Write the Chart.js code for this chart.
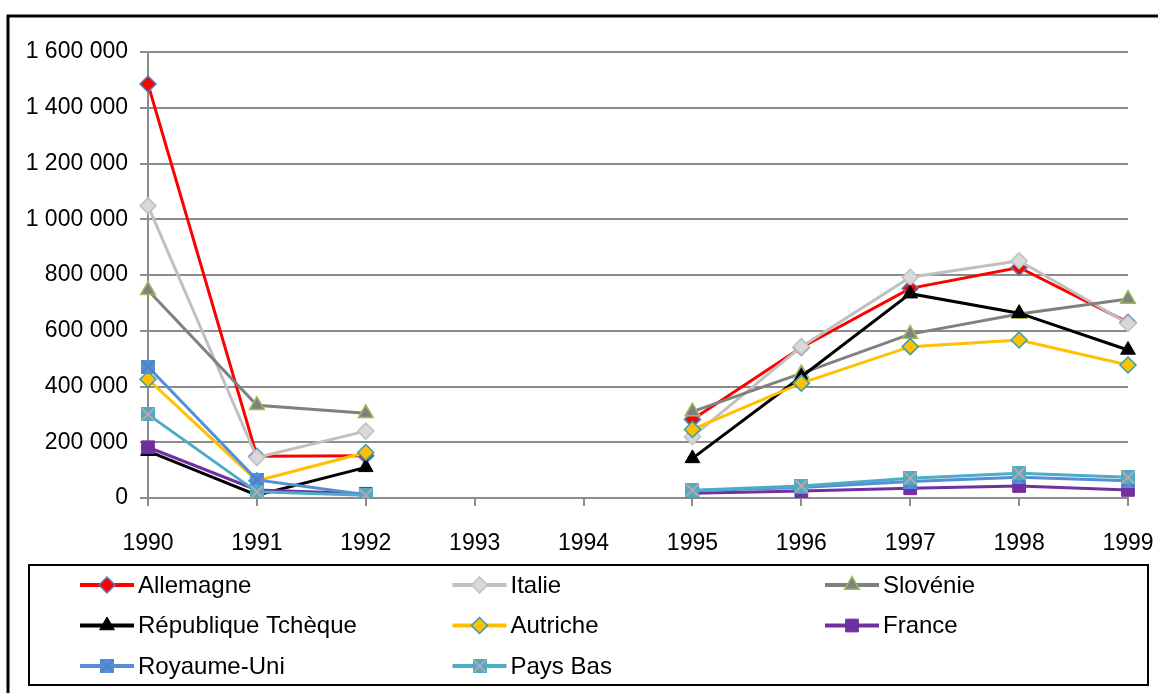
<!DOCTYPE html>
<html>
<head>
<meta charset="utf-8">
<script src="https://cdn.jsdelivr.net/npm/chart.js@4/dist/chart.umd.min.js"></script>
<style>
  html, body { margin: 0; padding: 0; background: #fff; }
  canvas { display: block; }
</style>
</head>
<body>
<canvas id="chart" width="1158" height="693"></canvas>
<script>
// categories
const years = ['1990', '1991', '1992', '1993', '1994', '1995', '1996', '1997', '1998', '1999'];

// series values (1993 / 1994 missing)
const allemagne  = [1485000, 150000, 152000, null, null, 282000, 540000, 752000, 827000, 630000];
const italie     = [1048000, 145000, 240000, null, null, 220000, 543000, 792000, 851000, 626000];
const slovenie   = [745000, 333000, 304000, null, null, 310000, 447000, 588000, 660000, 714000];
const repTcheque = [168000, 10000, 110000, null, null, 142000, 435000, 733000, 663000, 531000];
const autriche   = [426000, 62000, 163000, null, null, 246000, 412000, 543000, 567000, 477000];
const france     = [182000, 29000, 15000, null, null, 17000, 25000, 35000, 43000, 29000];
const royaumeUni = [471000, 65000, 12000, null, null, 26000, 38000, 59000, 74000, 62000];
const paysBas    = [300000, 22000, 10000, null, null, 28000, 43000, 71000, 89000, 74000];

// y axis ticks
const yTicks = [0, 200000, 400000, 600000, 800000, 1000000, 1200000, 1400000, 1600000];

const FONT = '"Liberation Sans", Arial, sans-serif';

function fmt(v) {
    return String(v).replace(/\B(?=(\d{3})+(?!\d))/g, ' ');
}

// square marker with a cross on it (Excel style)
function squareX(fill, cross) {
    const c = document.createElement('canvas');
    c.width = 14; c.height = 14;
    const g = c.getContext('2d');
    g.fillStyle = fill;
    g.fillRect(0, 0, 14, 14);
    g.strokeStyle = cross;
    g.lineWidth = 1.5;
    g.beginPath();
    g.moveTo(1, 1); g.lineTo(13, 13);
    g.moveTo(13, 1); g.lineTo(1, 13);
    g.stroke();
    return c;
}

function series(label, data, line, style, fill, border, radius, bw) {
    return {
        label: label,
        data: data,
        borderColor: line,
        backgroundColor: line,
        borderWidth: 3,
        pointStyle: style,
        pointRadius: radius,
        pointBackgroundColor: fill,
        pointBorderColor: border,
        pointBorderWidth: bw,
        spanGaps: false,
        tension: 0
    };
}

const datasets = [
    series('Allemagne', allemagne, '#FF0000', 'rectRot', '#FF0000', '#4F81BD', 8, 1.5),
    series('Italie', italie, '#C0C0C0', 'rectRot', '#D9D9D9', '#C0C0C0', 8, 1.5),
    series('Slovénie', slovenie, '#808080', 'triangle', '#808080', '#9BBB59', 8.5, 1.5),
    series('République Tchèque', repTcheque, '#000000', 'triangle', '#000000', '#000000', 8.5, 1),
    series('Autriche', autriche, '#FFC000', 'rectRot', '#FFC000', '#31A0B8', 8, 1.5),
    series('France', france, '#7030A0', 'rect', '#7030A0', '#7030A0', 9, 1),
    series('Royaume-Uni', royaumeUni, '#558ED5', squareX('#558ED5', '#4A7EC0'), '#558ED5', '#558ED5', 8, 0),
    series('Pays Bas', paysBas, '#4BACC6', squareX('#4BACC6', '#E6A0A0'), '#4BACC6', '#4BACC6', 8, 0)
];
// later series drawn on top, like Excel
datasets.forEach((d, i) => { d.order = datasets.length - i; });

// frame + legend box drawn on the canvas
const framePlugin = {
    id: 'frame',
    beforeDraw(chart) {
        const ctx = chart.ctx;
        ctx.save();
        ctx.fillStyle = '#fff';
        ctx.fillRect(0, 0, chart.width, chart.height);
        ctx.strokeStyle = '#000';
        ctx.lineWidth = 3;
        ctx.strokeRect(8, 16, 1400, 900);
        ctx.restore();
    },
    afterDraw(chart) {
        const ctx = chart.ctx;
        ctx.save();
        ctx.strokeStyle = '#000';
        ctx.lineWidth = 2;
        ctx.strokeRect(29, 565, 1119, 120);

        chart.data.datasets.forEach((ds, i) => {
            const col = i % 3;
            const row = Math.floor(i / 3);
            const x0 = 80 + col * 372.5;
            const y = 585 + row * 40.5;
            ctx.strokeStyle = ds.borderColor;
            ctx.lineWidth = 4;
            ctx.beginPath();
            ctx.moveTo(x0, y);
            ctx.lineTo(x0 + 54, y);
            ctx.stroke();

            ctx.fillStyle = ds.pointBackgroundColor;
            ctx.strokeStyle = ds.pointBorderColor;
            ctx.lineWidth = ds.pointBorderWidth;
            if (Chart.helpers && Chart.helpers.drawPoint) {
                Chart.helpers.drawPoint(ctx, {
                    pointStyle: ds.pointStyle,
                    radius: ds.pointRadius,
                    rotation: 0,
                    borderWidth: ds.pointBorderWidth
                }, x0 + 27, y);
            }

            ctx.fillStyle = '#000';
            ctx.font = '24px ' + FONT;
            ctx.textBaseline = 'middle';
            ctx.textAlign = 'left';
            ctx.fillText(ds.label, x0 + 58, y + 1);
        });
        ctx.restore();
    }
};

const gridColor = '#8C8C8C';

new Chart(document.getElementById('chart'), {
    type: 'line',
    data: { labels: years, datasets: datasets },
    options: {
        responsive: false,
        animation: false,
        events: [],
        layout: { padding: { top: 52, right: 30, bottom: 125, left: 0 } },
        plugins: {
            legend: { display: false },
            tooltip: { enabled: false }
        },
        scales: {
            x: {
                type: 'category',
                offset: false,
                grid: {
                    drawOnChartArea: false,
                    drawTicks: true,
                    tickLength: 8,
                    color: gridColor,
                    lineWidth: 2
                },
                border: { color: gridColor, width: 2 },
                ticks: {
                    color: '#000',
                    font: { family: FONT, size: 23 },
                    padding: 24,
                    maxRotation: 0,
                    autoSkip: false
                },
                afterFit(scale) {
                    scale.height = 70;
                    // last label may overflow into the right padding
                    scale.paddingLeft = 0;
                    scale.paddingRight = 0;
                }
            },
            y: {
                min: 0,
                max: 1600000,
                afterBuildTicks(scale) {
                    scale.ticks = yTicks.map(v => ({ value: v }));
                },
                grid: {
                    color: gridColor,
                    lineWidth: 2,
                    drawTicks: true,
                    tickLength: 8
                },
                border: { color: gridColor, width: 2 },
                ticks: {
                    color: '#000',
                    font: { family: FONT, size: 23 },
                    padding: 12,
                    callback: v => fmt(v)
                },
                afterFit(scale) { scale.width = 148; }
            }
        }
    },
    plugins: [framePlugin]
});
</script>
</body>
</html>
